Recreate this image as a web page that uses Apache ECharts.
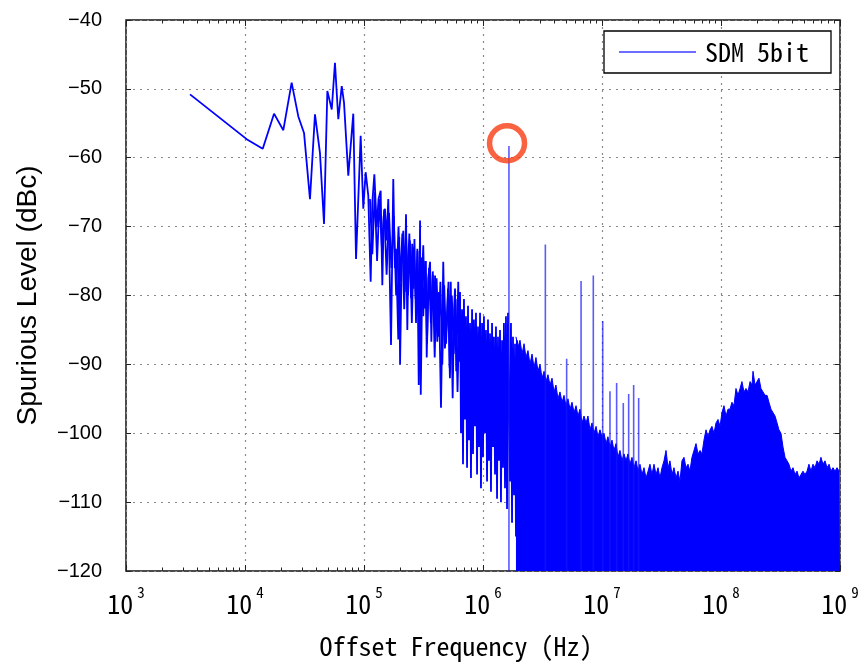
<!DOCTYPE html>
<html>
<head>
<meta charset="utf-8">
<script src="https://cdn.jsdelivr.net/npm/echarts@6/dist/echarts.min.js"></script>
<style>
html,body{margin:0;padding:0;background:#fff;}
#chart{width:864px;height:664px;}
</style>
</head>
<body>
<div id="chart"></div>
<script>
// ---- data (frequency stored as log10(Hz), level in dBc) ----
const seriesName = 'SDM 5bit';
const xTickExponents = [3, 4, 5, 6, 7, 8, 9];
const yTicks = [-120, -110, -100, -90, -80, -70, -60, -50, -40];

// low / mid frequency trace (individual line)
const traceLog10F = [
  3.538, 4.014, 4.149, 4.244, 4.322, 4.392, 4.448, 4.496, 4.546, 4.588,
  4.630, 4.664, 4.692, 4.729, 4.756, 4.784, 4.813, 4.832, 4.868, 4.910,
  4.933, 4.972, 4.994, 5.014, 5.036, 5.056, 5.070, 5.087, 5.107, 5.122,
  5.140, 5.154, 5.166, 5.176, 5.190, 5.204, 5.227, 5.246, 5.259, 5.269,
  5.288, 5.296, 5.303, 5.318, 5.330, 5.343, 5.353, 5.364, 5.373, 5.381,
  5.395, 5.405, 5.414, 5.424, 5.437, 5.448, 5.460, 5.471, 5.477, 5.490,
  5.498, 5.510, 5.520, 5.527, 5.540, 5.555, 5.566, 5.578, 5.590, 5.597,
  5.616, 5.630, 5.647, 5.666, 5.680, 5.695, 5.710, 5.720, 5.729, 5.745,
  5.757, 5.765, 5.775, 5.792, 5.801,
  5.807, 5.815, 5.824, 5.832, 5.840, 5.849, 5.857, 5.866, 5.874, 5.882,
  5.891, 5.899, 5.908, 5.916, 5.924, 5.933, 5.941, 5.950, 5.958, 5.966,
  5.975, 5.983, 5.992, 6.000, 6.008, 6.017, 6.025, 6.034, 6.042, 6.050,
  6.059, 6.067, 6.076, 6.084, 6.092, 6.101, 6.109, 6.118, 6.126, 6.134,
  6.143, 6.151, 6.160, 6.168, 6.176, 6.185, 6.193, 6.202, 6.210, 6.227,
  6.235, 6.244, 6.252, 6.261, 6.269, 6.277, 6.286, 6.294
];
const traceLevel = [
  -50.8, -57.3, -58.7, -53.6, -56.0, -49.1, -54.0, -56.4, -66.0, -53.7,
  -59.3, -69.6, -50.3, -53.0, -46.2, -54.4, -49.6, -52.0, -62.6, -53.6,
  -74.7, -56.8, -67.4, -62.1, -65.5, -78.0, -66.5, -62.4, -70.1, -66.0,
  -64.8, -78.5, -68.5, -67.4, -72.0, -66.0, -87.2, -63.1, -76.0, -73.2,
  -86.4, -71.5, -90.0, -74.0, -70.6, -79.5, -68.2, -85.0, -74.5, -71.0,
  -80.4, -72.5, -79.0, -71.8, -84.0, -73.2, -93.0, -69.1, -94.4, -76.5,
  -72.7, -81.9, -75.0, -89.0, -77.5, -75.1, -86.7, -76.5, -84.0, -77.1,
  -86.7, -79.5, -96.3, -75.1, -87.7, -84.3, -78.0, -90.5, -78.0, -94.9,
  -81.9, -79.0, -91.0, -78.0, -89.6,
  -79.5, -100.0, -82.0, -104.5, -80.5, -98.0, -83.0, -105.0, -81.5, -101.0,
  -84.0, -106.5, -82.0, -103.0, -83.5, -99.0, -82.5, -106.0, -84.5, -102.0,
  -82.5, -108.0, -84.0, -103.5, -83.0, -100.0, -85.0, -107.0, -83.5, -104.0,
  -85.5, -108.5, -84.0, -102.0, -86.0, -106.0, -84.5, -109.5, -86.0, -104.0,
  -85.0, -110.0, -86.5, -105.0, -84.0, -108.0, -83.0, -111.0, -82.5, -107.0,
  -84.0, -113.0, -86.0, -109.0, -87.0, -115.0, -86.5, -120.0
];

// dense core of the noise band between 10^5 and 10^5.8
const coreLog10F = [
  5.050, 5.070, 5.090, 5.110, 5.130, 5.150, 5.170, 5.190, 5.210, 5.230,
  5.250, 5.270, 5.290, 5.306, 5.322, 5.338, 5.354, 5.370, 5.386, 5.402,
  5.418, 5.434, 5.450, 5.466, 5.482, 5.498, 5.514, 5.530, 5.546, 5.562,
  5.578, 5.594, 5.610, 5.626, 5.642, 5.658, 5.674, 5.690, 5.706, 5.722,
  5.738, 5.754, 5.770, 5.786, 5.802
];
const coreLevel = [
  -66.0, -74.0, -65.0, -75.0, -66.0, -73.0, -67.5, -77.0, -68.0, -76.0,
  -68.5, -80.0, -70.0, -78.0, -71.0, -82.0, -71.5, -80.0, -72.0, -84.0,
  -73.0, -80.5, -73.5, -85.0, -74.5, -83.0, -75.0, -87.0, -76.0, -84.0,
  -77.0, -89.0, -77.5, -86.0, -78.0, -90.0, -78.5, -87.0, -79.0, -92.0,
  -80.0, -88.5, -80.5, -94.0, -81.0
];

// high frequency noise floor (upper envelope, filled down to the axis)
const bandLog10F = [
  6.277, 6.294, 6.311, 6.328, 6.345, 6.361, 6.378, 6.395, 6.412, 6.429,
  6.445, 6.462, 6.479, 6.496, 6.513, 6.530, 6.546, 6.563, 6.580, 6.597,
  6.613, 6.630, 6.647, 6.664, 6.681, 6.697, 6.714, 6.731, 6.748, 6.765,
  6.782, 6.798, 6.815, 6.832, 6.849, 6.866, 6.882, 6.899, 6.916, 6.933,
  6.950, 6.966, 6.983, 7.000, 7.017, 7.034, 7.050, 7.067, 7.084, 7.101,
  7.118, 7.134, 7.151, 7.168, 7.185, 7.202, 7.218, 7.235, 7.252, 7.269,
  7.286, 7.303, 7.319, 7.336, 7.353, 7.370, 7.387, 7.403, 7.420, 7.437,
  7.454, 7.471, 7.487, 7.504, 7.521, 7.538, 7.555, 7.571, 7.588, 7.605,
  7.622, 7.639, 7.655, 7.672, 7.689, 7.706, 7.723, 7.739, 7.756, 7.773,
  7.790, 7.807, 7.824, 7.840, 7.857, 7.874, 7.891, 7.908, 7.924, 7.941,
  7.958, 7.975, 7.992, 8.008, 8.025, 8.042, 8.059, 8.076, 8.092, 8.109,
  8.126, 8.143, 8.160, 8.176, 8.193, 8.210, 8.227, 8.244, 8.261, 8.269,
  8.286, 8.303, 8.319, 8.336, 8.353, 8.370, 8.387, 8.403, 8.420, 8.437,
  8.454, 8.471, 8.487, 8.504, 8.521, 8.538, 8.555, 8.571, 8.588, 8.605,
  8.622, 8.639, 8.655, 8.672, 8.689, 8.706, 8.723, 8.739, 8.756, 8.773,
  8.790, 8.807, 8.824, 8.840, 8.857, 8.874, 8.891, 8.908, 8.924, 8.941,
  8.958, 8.975, 8.992, 9.000
];
const bandLevel = [
  -86.0, -87.5, -86.5, -88.5, -87.0, -89.0, -88.0, -90.0, -88.5, -90.5,
  -89.0, -91.0, -90.0, -92.0, -91.0, -92.5, -91.5, -93.0, -92.0, -94.0,
  -93.0, -95.0, -94.0, -95.5, -94.5, -96.0, -95.0, -96.5, -95.5, -97.0,
  -96.0, -97.5, -96.5, -98.5, -97.5, -98.5, -97.5, -99.5, -98.5, -100.0,
  -99.0, -100.5, -99.5, -100.5, -100.0, -101.5, -100.5, -102.0, -101.0, -102.5,
  -101.5, -103.5, -102.5, -104.0, -103.0, -104.0, -103.0, -104.5, -103.5, -105.0,
  -104.0, -105.5, -104.5, -106.0, -105.0, -106.5, -105.5, -104.5, -106.0, -104.5,
  -106.0, -105.0, -106.5, -105.0, -104.0, -102.5, -105.0, -104.0, -106.0, -105.0,
  -106.5, -105.5, -107.0, -104.0, -103.5, -105.0, -104.5, -105.5, -103.5, -102.5,
  -101.5, -103.0, -102.5, -103.0, -101.0, -99.5, -100.5, -99.5, -99.0, -100.0,
  -98.5, -98.0, -99.0, -97.0, -96.0, -97.5, -96.5, -96.5, -95.5, -96.0,
  -93.5, -94.5, -93.5, -92.5, -94.0, -93.5, -94.0, -92.5, -93.0, -91.0,
  -93.0, -92.5, -92.0, -93.5, -94.0, -94.5, -94.5, -95.5, -96.5, -97.0,
  -97.5, -98.5, -99.5, -100.0, -102.0, -103.5, -104.0, -104.5, -105.5, -105.0,
  -106.0, -105.5, -106.5, -106.0, -105.5, -106.0, -105.5, -104.5, -105.5, -104.5,
  -105.0, -104.0, -104.5, -103.5, -104.5, -104.0, -105.0, -104.5, -105.5, -105.0,
  -105.5, -105.0, -105.5, -105.5
];

// discrete spurs
const spurLog10F = [6.218, 6.524, 6.703, 6.824, 6.927, 7.006, 7.067, 7.123, 7.179, 7.224, 7.266, 7.308];
const spurLevel  = [-58.3, -72.6, -89.2, -77.9, -77.1, -83.7, -93.9, -92.7, -95.6, -94.3, -93.0, -94.9];

// annotation circle around the main spur
const markerLog10F = 6.202;
const markerLevel = -57.9;

// ---- build ----
const toHz = e => Math.pow(10, e);
const traceData = traceLog10F.map((e, i) => [toHz(e), traceLevel[i]]);
const coreData = coreLog10F.map((e, i) => [toHz(e), coreLevel[i]]);
const bandData = bandLog10F.map((e, i) => [toHz(e), bandLevel[i]]);
const spurData = [];
spurLog10F.forEach((e, i) => {
  spurData.push([toHz(e), -120]);
  spurData.push([toHz(e), spurLevel[i]]);
  spurData.push([toHz(e), '-']);
});
const majorX = xTickExponents.map(toHz);
const minorX = [];
for (let d = 3; d < 9; d++) for (let m = 2; m <= 9; m++) minorX.push(m * Math.pow(10, d));

const mono = '"Noto Sans Mono CJK JP", "Liberation Mono", monospace';
const sans = '"Liberation Sans", Arial, sans-serif';
const BLUE = '#0000ff';

const chart = echarts.init(document.getElementById('chart'), null, {renderer: 'canvas'});
const baseLog = {type: 'log', logBase: 10, min: 1e3, max: 1e9, gridIndex: 0};

chart.setOption({
  animation: false,
  backgroundColor: '#fff',
  grid: {left: 126, right: 24, top: 20, bottom: 90, show: true, borderColor: '#111', borderWidth: 1.5, backgroundColor: 'rgba(0,0,0,0)'},
  legend: {
    data: [{name: seriesName, icon: 'rect'}],
    left: 604, top: 31,
    padding: [8, 22, 8, 15],
    itemWidth: 77, itemHeight: 1.5,
    borderColor: '#000', borderWidth: 1.3, borderRadius: 0,
    backgroundColor: '#fff',
    itemStyle: {color: '#3c3cff'},
    textStyle: {fontFamily: mono, fontSize: 26, color: '#000', padding: [0, 0, 0, 4]}
  },
  xAxis: [
    Object.assign({}, baseLog, {
      position: 'bottom',
      axisLine: {show: false},
      axisTick: {show: true, inside: true, length: 6, customValues: majorX, lineStyle: {color: '#222', width: 1}},
      axisLabel: {
        customValues: majorX, margin: 14, color: '#000',
        formatter: v => '{b|10}{s|' + Math.round(Math.log10(v)) + '}',
        rich: {
          b: {fontFamily: mono, fontSize: 26, lineHeight: 32, verticalAlign: 'bottom', color: '#000'},
          s: {fontFamily: mono, fontSize: 15, lineHeight: 32, verticalAlign: 'top', padding: [0, 0, 0, 4], color: '#000'}
        }
      },
      splitLine: {show: true, lineStyle: {type: [2, 5], color: '#8a8a8a', width: 1.2}},
      name: 'Offset Frequency (Hz)', nameLocation: 'middle', nameGap: 62,
      nameTextStyle: {fontFamily: mono, fontSize: 26, color: '#000', padding: [0, 54, 0, 0]}
    }),
    Object.assign({}, baseLog, {
      position: 'bottom', axisLine: {show: false}, axisLabel: {show: false}, splitLine: {show: false},
      axisTick: {show: true, inside: true, length: 3.5, customValues: minorX, lineStyle: {color: '#222'}}
    }),
    Object.assign({}, baseLog, {
      position: 'top', axisLine: {show: false}, axisLabel: {show: false}, splitLine: {show: false},
      axisTick: {show: true, inside: true, length: 6, customValues: majorX, lineStyle: {color: '#222'}}
    }),
    Object.assign({}, baseLog, {
      position: 'top', axisLine: {show: false}, axisLabel: {show: false}, splitLine: {show: false},
      axisTick: {show: true, inside: true, length: 3.5, customValues: minorX, lineStyle: {color: '#222'}}
    })
  ],
  yAxis: [
    {
      type: 'value', min: yTicks[0], max: yTicks[yTicks.length - 1], interval: 10,
      position: 'left',
      axisLine: {show: false},
      axisTick: {show: true, inside: true, length: 5, lineStyle: {color: '#222'}},
      axisLabel: {fontFamily: sans, fontSize: 20, color: '#000', margin: 24,
        formatter: v => String(v).replace('-', '\u2212')},
      splitLine: {show: true, lineStyle: {type: [2, 5], color: '#8a8a8a', width: 1.2}},
      name: 'Spurious Level (dBc)', nameLocation: 'middle', nameGap: 84,
      nameTextStyle: {fontFamily: sans, fontSize: 28, color: '#000'}
    },
    {
      type: 'value', min: yTicks[0], max: yTicks[yTicks.length - 1], interval: 10,
      position: 'right',
      axisLine: {show: false}, axisLabel: {show: false}, splitLine: {show: false},
      axisTick: {show: true, inside: true, length: 5, lineStyle: {color: '#222'}}
    }
  ],
  series: [
    {
      name: 'noise floor', type: 'line', xAxisIndex: 0, yAxisIndex: 0,
      data: bandData, showSymbol: false, symbol: 'none',
      lineStyle: {color: BLUE, width: 1}, itemStyle: {color: BLUE},
      areaStyle: {color: BLUE, opacity: 1, origin: 'start'},
      z: 2, silent: true
    },
    {
      name: 'noise core', type: 'line', xAxisIndex: 0, yAxisIndex: 0,
      data: coreData, showSymbol: false, symbol: 'none',
      lineStyle: {color: BLUE, width: 1.8}, itemStyle: {color: BLUE},
      z: 3, silent: true
    },
    {
      name: seriesName, type: 'line', xAxisIndex: 0, yAxisIndex: 0,
      data: traceData, showSymbol: false, symbol: 'none',
      lineStyle: {color: BLUE, width: 1.8}, itemStyle: {color: BLUE},
      z: 3, silent: true
    },
    {
      name: 'spurs', type: 'line', xAxisIndex: 0, yAxisIndex: 0,
      data: spurData, showSymbol: false, symbol: 'none', connectNulls: false,
      lineStyle: {color: 'rgba(20,20,255,0.7)', width: 1.6},
      z: 4, silent: true
    },
    {
      name: 'marker', type: 'scatter', xAxisIndex: 0, yAxisIndex: 0,
      data: [[toHz(markerLog10F), markerLevel]],
      symbol: 'circle', symbolSize: 35,
      itemStyle: {color: 'rgba(0,0,0,0)', borderColor: '#f83c12', borderWidth: 5.5},
      z: 10, silent: true
    }
  ]
});
</script>
</body>
</html>
